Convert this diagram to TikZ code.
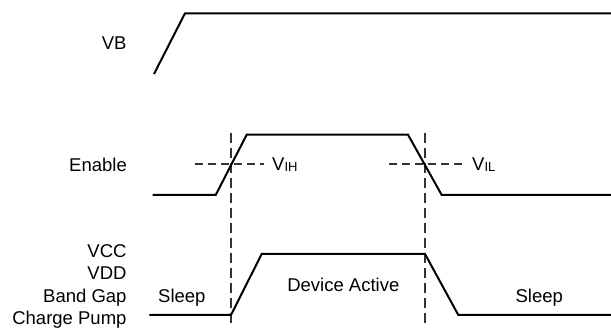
\documentclass[tikz,border=0pt]{standalone}
\usepackage{fontspec}
\setmainfont{Liberation Sans}
\begin{document}
\begin{tikzpicture}[x=1pt,y=-1pt,
  signal/.style={line width=2pt, line join=miter},
  guide/.style={line width=1.2pt, black!80, dash pattern=on 10pt off 5pt},
  hguide/.style={line width=1.2pt, black!80, dash pattern=on 8pt off 5pt},
  lbl/.style={inner sep=0pt, font=\fontsize{18.5}{22}\selectfont},
  lblr/.style={lbl, anchor=base east},
  lbll/.style={lbl, anchor=base west}]
\useasboundingbox (0,0) rectangle (611,328);
% labels
\node[lblr] (vb) at (126.7,49.3) {VB};
\node[lblr] (en) at (127,171.6) {Enable};
\node[lblr] (vcc) at (126.7,257.3) {VCC};
\node[lblr] (vdd) at (126.7,279.3) {VDD};
\node[lblr] (bg) at (126.7,302.6) {Band Gap};
\node[lblr] (cp) at (126.7,324.9) {Charge Pump};
\node[lbll] (sl1) at (158,302.6) {Sleep};
\node[lbl, anchor=base] (da) at (343.3,291.6) {Device Active};
\node[lbl, anchor=base] (sl2) at (539.3,302.6) {Sleep};
\node[lbll] (vih) at (272,170.6) {V\raisebox{-1.2pt}{\fontsize{13}{13}\selectfont IH}};
\node[lbll] (vil) at (472,170.6) {V\raisebox{-1.2pt}{\fontsize{13}{13}\selectfont IL}};
% guides
\draw[guide] (231,133) -- (231,325);
\draw[guide] (425,133) -- (425,325);
\draw[hguide] (195,164) -- (264,164);
\draw[hguide] (389,164) -- (462,164);
% signals
\draw[signal] (154,74) -- (185,13.3) -- (611,13.3);
\draw[signal] (152.7,195) -- (215.7,195) -- (246.7,134.7) -- (408,134.7) -- (441.7,195) -- (611,195);
\draw[signal] (149.3,315) -- (231,315) -- (261.7,254) -- (425,254) -- (458.3,315) -- (611,315);
\end{tikzpicture}
\end{document}
